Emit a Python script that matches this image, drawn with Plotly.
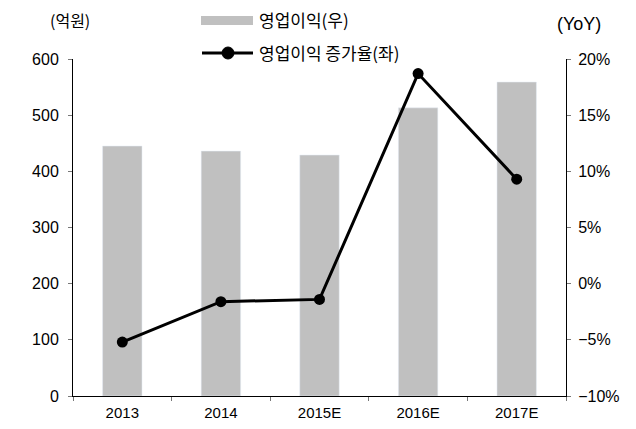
import plotly.graph_objects as go

categories = ["2013", "2014", "2015E", "2016E", "2017E"]
op_profit = [445, 436, 429, 513, 559]          # 억원 (bars, left axis)
growth = [-5.2, -1.6, -1.4, 18.7, 9.3]          # % YoY (line, right axis)
left_ticks = [0, 100, 200, 300, 400, 500, 600]
right_ticks = [-10, -5, 0, 5, 10, 15, 20]
right_labels = ["\u221210%", "\u22125%", "0%", "5%", "10%", "15%", "20%"]

# page offset of the figure (browser body margin)
OFF = 8
# plot area in page pixels
PX0, PX1, PY0, PY1 = 73, 566, 59, 396
PW, PH = PX1 - PX0, PY1 - PY0
W, H = 636 - OFF, 429 - OFF
L, T = PX0 - OFF, PY0 - OFF
R, B = W - L - PW, H - T - PH

def px(x):
    return (x - PX0) / PW

def py(y):
    return (PY1 - y) / PH

FONT = "Liberation Sans, Arial, sans-serif"
KFONT = "Noto Sans CJK KR, sans-serif"

fig = go.Figure()
fig.add_trace(go.Bar(x=categories, y=op_profit, marker_color="#c0c0c0",
                     width=0.4, yaxis="y", showlegend=False, name="영업이익(우)"))
fig.add_trace(go.Scatter(x=categories, y=growth, yaxis="y2", mode="lines+markers",
                         line=dict(color="black", width=3),
                         marker=dict(color="black", size=11),
                         showlegend=False, name="영업이익 증가율(좌)"))

axis_common = dict(showline=True, linecolor="black", linewidth=1, ticks="outside",
                   ticklen=4, tickcolor="#777", showgrid=False, zeroline=False,
                   automargin=False)

fig.update_layout(
    width=W, height=H,
    margin=dict(l=L, r=R, t=T, b=B),
    paper_bgcolor="white", plot_bgcolor="white",
    xaxis=dict(**axis_common, tickson="boundaries", ticklabelstandoff=3,
               tickfont=dict(family=FONT, size=15, color="black")),
    yaxis=dict(**axis_common, range=[0, 600], tickmode="array", tickvals=left_ticks,
               ticklabelstandoff=6,
               tickfont=dict(family=FONT, size=16, color="black")),
    yaxis2=dict(**axis_common, range=[-10, 20], tickmode="array", tickvals=right_ticks,
                ticktext=right_labels, overlaying="y", side="right",
                ticklabelstandoff=4,
                tickfont=dict(family=FONT, size=16, color="black")),
    shapes=[
        dict(type="rect", xref="paper", yref="paper", x0=px(201), x1=px(253),
             y0=py(25), y1=py(16), fillcolor="#c0c0c0", line=dict(width=0)),
        dict(type="line", xref="paper", yref="paper", x0=px(202), x1=px(253),
             y0=py(53), y1=py(53), line=dict(color="black", width=3)),
        dict(type="circle", xref="paper", yref="paper", x0=px(222), x1=px(234),
             y0=py(59), y1=py(47), fillcolor="black", line=dict(color="black", width=1)),
    ],
    annotations=[
        dict(text="영업이익(우)", xref="paper", yref="paper", x=px(257), y=py(20),
             xanchor="left", yanchor="middle", showarrow=False,
             font=dict(family=KFONT, size=17, color="black")),
        dict(text="영업이익 증가율(좌)", xref="paper", yref="paper", x=px(257), y=py(52),
             xanchor="left", yanchor="middle", showarrow=False,
             font=dict(family=KFONT, size=17, color="black")),
        dict(text="(억원)", xref="paper", yref="paper", x=px(70), y=py(20),
             xanchor="center", yanchor="middle", showarrow=False,
             font=dict(family=KFONT, size=16, color="black")),
        dict(text="(YoY)", xref="paper", yref="paper", x=px(579), y=py(24),
             xanchor="center", yanchor="middle", showarrow=False,
             font=dict(family=FONT, size=18, color="black")),
    ],
)

fig.write_html("out.html")
